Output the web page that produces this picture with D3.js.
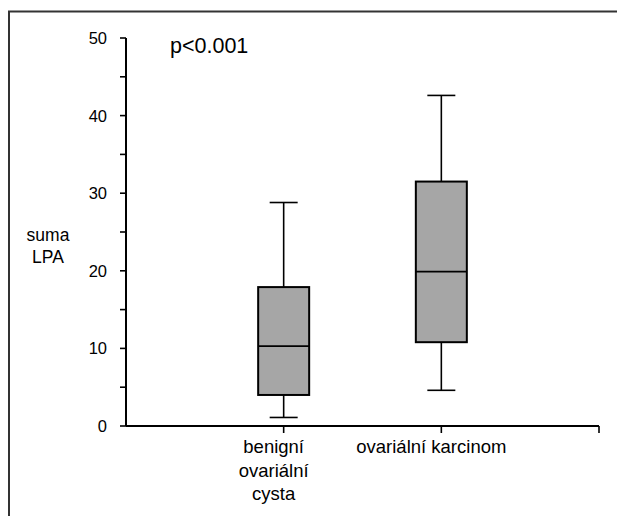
<!DOCTYPE html>
<html>
<head>
<meta charset="utf-8">
<script src="https://cdn.jsdelivr.net/npm/d3@7"></script>
<style>
  body { margin: 0; background: #fff; }
  text { font-family: "Liberation Sans", Arial, sans-serif; fill: #000; }
</style>
</head>
<body>
<script>
const groups = [["benigní", "ovariální", "cysta"], ["ovariální karcinom"]];
const whiskerLow = [1.1, 4.6];
const q1 = [4.0, 10.8];
const medians = [10.3, 19.9];
const q3 = [17.9, 31.5];
const whiskerHigh = [28.8, 42.6];
const majorTicks = [0, 10, 20, 30, 40, 50];
const minorTicks = [5, 15, 25, 35, 45];

const width = 617, height = 516;
const svg = d3.select("body").append("svg")
  .attr("width", width)
  .attr("height", height);

// frame (only top and left visible)
svg.append("path")
  .attr("d", "M9,516V11.5H617")
  .attr("fill", "none")
  .attr("stroke", "#333")
  .attr("stroke-width", 2);

const y = d3.scaleLinear().domain([0, 50]).range([426, 38]);
const x = d3.scaleLinear().domain([0, 3]).range([126, 599]);

// y axis
const yg = svg.append("g").attr("transform", "translate(126,0)");
yg.append("line")
  .attr("y1", y(0)).attr("y2", y(50))
  .attr("stroke", "#000").attr("stroke-width", 2);
yg.selectAll("line.tick")
  .data(majorTicks.concat(minorTicks))
  .enter().append("line")
  .attr("class", "tick")
  .attr("x1", -6).attr("x2", 0)
  .attr("y1", d => y(d)).attr("y2", d => y(d))
  .attr("stroke", "#000").attr("stroke-width", 1.6);
yg.selectAll("text")
  .data(majorTicks)
  .enter().append("text")
  .attr("x", -19)
  .attr("y", d => y(d) + 6)
  .attr("text-anchor", "end")
  .attr("font-size", 16.5)
  .text(d => d);

// x axis
const xg = svg.append("g");
xg.append("line")
  .attr("x1", x(0)).attr("x2", x(3))
  .attr("y1", y(0)).attr("y2", y(0))
  .attr("stroke", "#000").attr("stroke-width", 2);
xg.selectAll("line.tick")
  .data([1, 2, 3])
  .enter().append("line")
  .attr("class", "tick")
  .attr("x1", d => x(d)).attr("x2", d => x(d))
  .attr("y1", y(0)).attr("y2", y(0) + 7)
  .attr("stroke", "#000").attr("stroke-width", 1.6);

// category labels sit a little left of their ticks in the original
groups.forEach((lines, i) => {
  const t = xg.append("text")
    .attr("text-anchor", "middle")
    .attr("font-size", 18.5);
  lines.forEach((l, k) => {
    t.append("tspan")
      .attr("x", x(i + 1) - 10)
      .attr("y", 453 + k * 23.5)
      .text(l);
  });
});

// boxes
const boxW = 51, capW = 28;
groups.forEach((g, i) => {
  const cx = x(i + 1);
  const b = svg.append("g");
  b.append("line")
    .attr("x1", cx).attr("x2", cx)
    .attr("y1", y(whiskerHigh[i])).attr("y2", y(q3[i]))
    .attr("stroke", "#000").attr("stroke-width", 1.6);
  b.append("line")
    .attr("x1", cx).attr("x2", cx)
    .attr("y1", y(q1[i])).attr("y2", y(whiskerLow[i]))
    .attr("stroke", "#000").attr("stroke-width", 1.6);
  [whiskerHigh[i], whiskerLow[i]].forEach(v => {
    b.append("line")
      .attr("x1", cx - capW / 2).attr("x2", cx + capW / 2)
      .attr("y1", y(v)).attr("y2", y(v))
      .attr("stroke", "#000").attr("stroke-width", 1.6);
  });
  b.append("rect")
    .attr("x", cx - boxW / 2)
    .attr("y", y(q3[i]))
    .attr("width", boxW)
    .attr("height", y(q1[i]) - y(q3[i]))
    .attr("fill", "#a6a6a6")
    .attr("stroke", "#000").attr("stroke-width", 2);
  b.append("line")
    .attr("x1", cx - boxW / 2).attr("x2", cx + boxW / 2)
    .attr("y1", y(medians[i])).attr("y2", y(medians[i]))
    .attr("stroke", "#000").attr("stroke-width", 1.8);
});

// labels
svg.append("text")
  .attr("x", 170).attr("y", 53)
  .attr("font-size", 21.5)
  .text("p<0.001");

const yl = svg.append("text")
  .attr("text-anchor", "middle")
  .attr("font-size", 17.5);
yl.append("tspan").attr("x", 48).attr("y", 241).text("suma");
yl.append("tspan").attr("x", 48).attr("y", 263).text("LPA");
</script>
</body>
</html>
